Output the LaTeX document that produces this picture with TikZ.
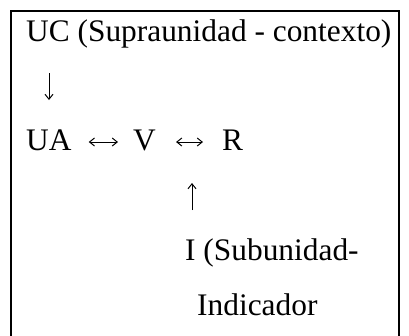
\documentclass[tikz,border=0pt]{standalone}
\usepackage{fontspec}
\setmainfont{Liberation Serif}
\usetikzlibrary{arrows.meta}
\begin{document}
\begin{tikzpicture}[x=1bp,y=-1bp,
  lbl/.style={anchor=base west, inner sep=0pt, font=\fontsize{31.5}{37}\selectfont},
  arr/.style={line width=1bp, -{Straight Barb[length=5bp,width=8bp]}},
  arrboth/.style={line width=1bp, {Straight Barb[length=5bp,width=8bp]}-{Straight Barb[length=5bp,width=8bp]}},
  frame/.style={line width=2bp}]
\useasboundingbox (0,0) rectangle (409,336);
\clip (0,0) rectangle (409,336);
\draw[frame] (10.7,345) -- (10.7,11) -- (399,11) -- (399,345);
\node[lbl] (UC) at (26,41) {UC (Supraunidad - contexto)};
\node[lbl] (UA) at (26,150) {UA};
\node[lbl] (V) at (133,150) {V};
\node[lbl] (R) at (222,150) {R};
\node[lbl] (I) at (185,260) {I (Subunidad-};
\node[lbl] (Ind) at (197,315) {Indicador};
\draw[arr] ([shift={(23,32)}]UC.base west) -- ([shift={(23,59)}]UC.base west);
\draw[arrboth] ([shift={(17,-8)}]UA.base east) -- ([shift={(-15,-8)}]V.base west);
\draw[arrboth] ([shift={(20,-8)}]V.base east) -- ([shift={(-19,-8)}]R.base west);
\draw[arr] ([shift={(7,-50)}]I.base west) -- ([shift={(7,-77)}]I.base west);
\end{tikzpicture}
\end{document}
